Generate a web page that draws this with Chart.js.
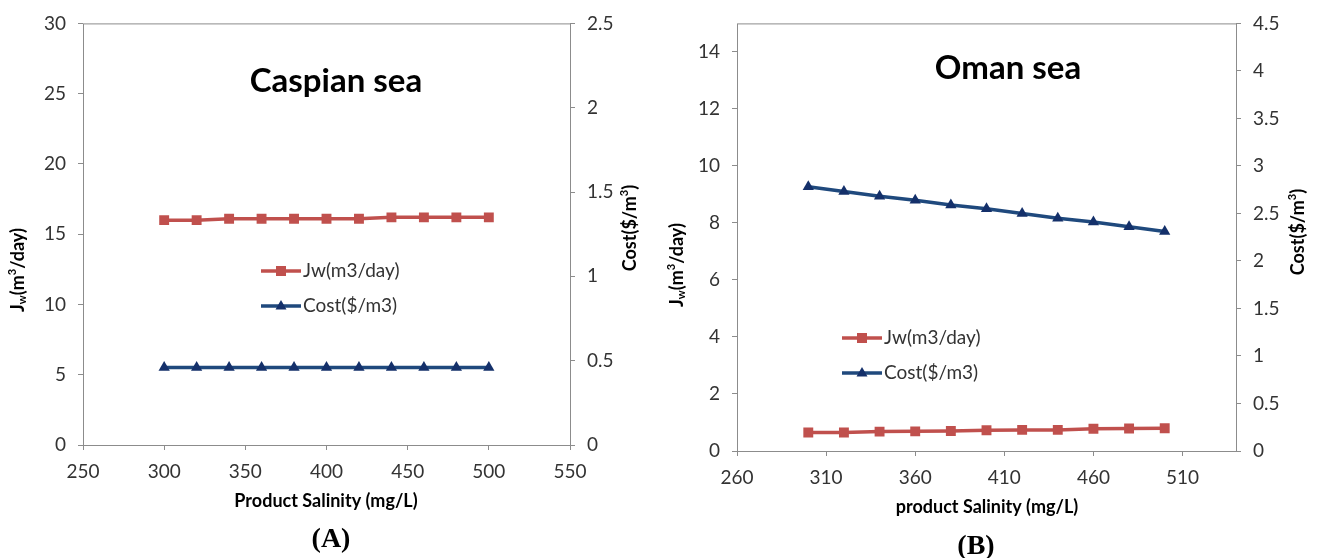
<!DOCTYPE html>
<html>
<head>
<meta charset="utf-8">
<script src="https://cdn.jsdelivr.net/npm/chart.js@4.4.1/dist/chart.umd.min.js"></script>
<style>
  body { margin: 0; background: #fff; }
  #wrap { position: relative; width: 1318px; height: 558px; }
  canvas { position: absolute; top: 0; }
  .tag { position: absolute; font: bold 28px "Liberation Serif", serif; color: #000; transform: translate(-50%, -50%); }
</style>
</head>
<body>
<div id="wrap">
  <canvas id="chartA" width="650" height="558" style="left:0"></canvas>
  <canvas id="chartB" width="668" height="558" style="left:650px"></canvas>
  <div class="tag" style="left:331px;top:538px">(A)</div>
  <div class="tag" style="left:976px;top:545px">(B)</div>
</div>
<script>
// product salinity (mg/L)
const salinity = [300, 320, 340, 360, 380, 400, 420, 440, 460, 480, 500];

// Caspian sea
const caspianJw = [16.0, 16.0, 16.1, 16.1, 16.1, 16.1, 16.1, 16.2, 16.2, 16.2, 16.2];
const caspianCost = [0.46, 0.46, 0.46, 0.46, 0.46, 0.46, 0.46, 0.46, 0.46, 0.46, 0.46];
const caspianXTicks = [250, 300, 350, 400, 450, 500, 550];

// Oman sea
const omanJw = [0.65, 0.65, 0.68, 0.69, 0.70, 0.73, 0.74, 0.74, 0.78, 0.79, 0.80];
const omanCost = [2.78, 2.73, 2.68, 2.64, 2.59, 2.55, 2.50, 2.45, 2.41, 2.36, 2.31];
const omanXTicks = [260, 310, 360, 410, 460, 510];

const seriesNames = ['Jw(m3/day)', 'Cost($/m3)'];

const RED = '#C0504D';
const NAVY = '#1F497D';
const NAVY_MARK = '#14306A';
const AXIS = '#8C8C8C';

Chart.defaults.font.family = 'Lato, "Open Sans", sans-serif';
Chart.defaults.color = '#333';

const jwTitle = [{ t: 'J' }, { t: 'w', sub: true }, { t: '(m' }, { t: '3', sup: true }, { t: '/day)' }];
const costTitle = [{ t: 'Cost($/m' }, { t: '3', sup: true }, { t: ')' }];

function richText(ctx, runs, cx, cy, rot, size) {
    let w = 0;
    runs.forEach(r => {
        const s = (r.sub || r.sup) ? size * 0.62 : size;
        r.font = 'bold ' + s + 'px Lato, sans-serif';
        ctx.font = r.font;
        r.w = ctx.measureText(r.t).width;
        w += r.w;
    });
    ctx.save();
    ctx.translate(cx, cy);
    ctx.rotate(rot);
    ctx.textBaseline = 'middle';
    ctx.textAlign = 'left';
    ctx.fillStyle = '#000';
    let x = -w / 2;
    runs.forEach(r => {
        ctx.font = r.font;
        const dy = r.sub ? size * 0.22 : r.sup ? -size * 0.32 : 0;
        ctx.fillText(r.t, x, dy);
        x += r.w;
    });
    ctx.restore();
}

function drawMarker(ctx, style, x, y, color) {
    ctx.fillStyle = color;
    ctx.beginPath();
    if (style === 'rect') {
        ctx.rect(x - 5, y - 5, 10, 10);
    } else {
        ctx.moveTo(x, y - 6);
        ctx.lineTo(x + 5.5, y + 3.5);
        ctx.lineTo(x - 5.5, y + 3.5);
        ctx.closePath();
    }
    ctx.fill();
}

// frame, in-plot title, legend and axis titles
const deco = {
    id: 'deco',
    beforeDatasetsDraw(chart) {
        const { ctx, chartArea: a } = chart;
        ctx.save();
        ctx.strokeStyle = AXIS;
        ctx.lineWidth = 1;
        ctx.strokeRect(a.left + 0.5, a.top + 0.5, a.right - a.left, a.bottom - a.top);
        ctx.restore();
    },
    afterDraw(chart, args, o) {
        const ctx = chart.ctx;
        ctx.save();
        ctx.fillStyle = '#000';
        ctx.textAlign = 'center';
        ctx.textBaseline = 'middle';
        ctx.font = 'bold 33px Lato, sans-serif';
        ctx.fillText(o.title, o.titleX, o.titleY);

        // legend
        chart.data.datasets.forEach((ds, i) => {
            const y = o.legendY[i];
            ctx.strokeStyle = ds.borderColor;
            ctx.lineWidth = 3.5;
            ctx.beginPath();
            ctx.moveTo(o.legendX, y);
            ctx.lineTo(o.legendX + 40, y);
            ctx.stroke();
            drawMarker(ctx, ds.pointStyle, o.legendX + 20, y, ds.pointBackgroundColor);
            ctx.fillStyle = '#333';
            ctx.textAlign = 'left';
            ctx.font = '19px Lato, sans-serif';
            ctx.fillText(ds.label, o.legendX + 42, y);
        });

        ctx.fillStyle = '#000';
        ctx.textAlign = 'center';
        ctx.font = 'bold 18px Lato, sans-serif';
        ctx.fillText(o.xTitle, o.xTitleX, o.xTitleY);
        ctx.restore();

        richText(ctx, jwTitle, o.yTitleX, o.yTitleY, -Math.PI / 2, 18);
        richText(ctx, costTitle, o.y1TitleX, o.y1TitleY, -Math.PI / 2, 18);
    }
};

function makeChart(id, jw, cost, ax, box, o) {
    const ctx = document.getElementById(id).getContext('2d');
    const canvasW = ctx.canvas.width;
    const canvasH = ctx.canvas.height;
    const tickGrid = { drawOnChartArea: false, drawTicks: true, tickLength: 5, color: AXIS };
    const tickFont = { size: 19 };
    return new Chart(ctx, {
        type: 'line',
        data: {
            datasets: [
                {
                    label: seriesNames[0],
                    data: salinity.map((s, i) => ({ x: s, y: jw[i] })),
                    yAxisID: 'y',
                    borderColor: RED,
                    borderWidth: 3.5,
                    pointStyle: 'rect',
                    pointRadius: 7,
                    pointBackgroundColor: RED,
                    pointBorderColor: RED,
                    pointBorderWidth: 0,
                    tension: 0
                },
                {
                    label: seriesNames[1],
                    data: salinity.map((s, i) => ({ x: s, y: cost[i] })),
                    yAxisID: 'y1',
                    borderColor: NAVY,
                    borderWidth: 3.5,
                    pointStyle: 'triangle',
                    pointRadius: 6.5,
                    pointBackgroundColor: NAVY_MARK,
                    pointBorderColor: NAVY_MARK,
                    pointBorderWidth: 0,
                    tension: 0
                }
            ]
        },
        options: {
            responsive: false,
            animation: false,
            devicePixelRatio: 1,
            layout: { padding: { top: box.top, left: 0, right: 0, bottom: 0 } },
            plugins: {
                legend: { display: false },
                tooltip: { enabled: false },
                deco: o
            },
            scales: {
                x: {
                    type: 'linear',
                    min: ax.xMin, max: ax.xMax,
                    ticks: { padding: 10, font: tickFont, maxRotation: 0, autoSkip: false },
                    afterBuildTicks: s => { s.ticks = ax.xTicks.map(v => ({ value: v })); },
                    grid: tickGrid,
                    border: { display: false },
                    afterFit: s => { s.height = canvasH - box.bottom; }
                },
                y: {
                    position: 'left',
                    min: 0, max: ax.yMax,
                    ticks: { stepSize: ax.yStep, includeBounds: false, padding: 12, font: tickFont, callback: v => String(v) },
                    grid: tickGrid,
                    border: { display: false },
                    afterFit: s => { s.width = box.left; }
                },
                y1: {
                    position: 'right',
                    min: 0, max: ax.y1Max,
                    ticks: { stepSize: 0.5, includeBounds: false, padding: 12, font: tickFont, callback: v => String(v) },
                    grid: tickGrid,
                    border: { display: false },
                    afterFit: s => { s.width = canvasW - box.right; }
                }
            }
        },
        plugins: [deco]
    });
}

makeChart('chartA', caspianJw, caspianCost,
    { xMin: 250, xMax: 550, xTicks: caspianXTicks, yMax: 30, yStep: 5, y1Max: 2.5 },
    { left: 83, right: 570, top: 16, bottom: 445 },
    {
        title: 'Caspian sea', titleX: 336, titleY: 81,
        legendX: 261, legendY: [271, 306],
        xTitle: 'Product Salinity (mg/L)', xTitleX: 326, xTitleY: 501,
        yTitleX: 18, yTitleY: 270, y1TitleX: 630, y1TitleY: 228
    });

makeChart('chartB', omanJw, omanCost,
    { xMin: 260, xMax: 540, xTicks: omanXTicks, yMax: 15, yStep: 2, y1Max: 4.5 },
    { left: 87, right: 586, top: 14, bottom: 451 },
    {
        title: 'Oman sea', titleX: 358, titleY: 68,
        legendX: 192, legendY: [338, 373],
        xTitle: 'product Salinity (mg/L)', xTitleX: 337, xTitleY: 507,
        yTitleX: 27, yTitleY: 265, y1TitleX: 648, y1TitleY: 232
    });
</script>
</body>
</html>
